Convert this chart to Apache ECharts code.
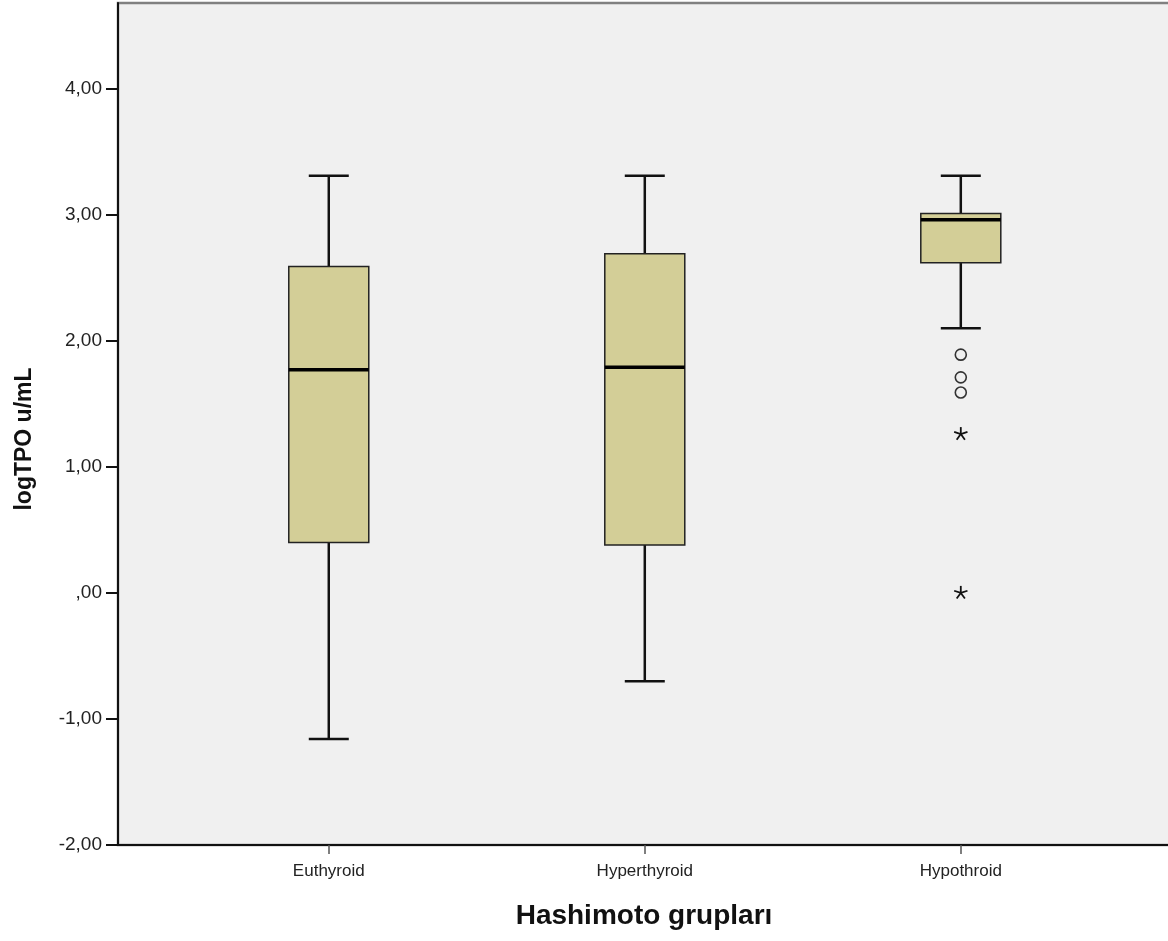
<!DOCTYPE html>
<html>
<head>
<meta charset="utf-8">
<script src="https://cdn.jsdelivr.net/npm/echarts@6/dist/echarts.min.js"></script>
<style>
  html, body { margin: 0; padding: 0; background: #fff; }
  #chart { width: 1168px; height: 941px; }
</style>
</head>
<body>
<div id="chart"></div>
<script>
// box statistics, per group
const categories = ['Euthyroid', 'Hyperthyroid', 'Hypothroid'];
const whiskerLow = [-1.16, -0.70, 2.10];
const q1 = [0.40, 0.38, 2.62];
const median = [1.77, 1.79, 2.96];
const q3 = [2.59, 2.69, 3.01];
const whiskerHigh = [3.31, 3.31, 3.31];

// outliers (circles) and extremes (stars): [group index, value]
const outliers = [[2, 1.89], [2, 1.71], [2, 1.59]];
const extremes = [[2, 1.26], [2, 0.00]];

const yTicks = [-2, -1, 0, 1, 2, 3, 4];

const boxData = categories.map((c, i) => [i, whiskerLow[i], q1[i], median[i], q3[i], whiskerHigh[i]]);

function fmt(v) {
  if (Math.abs(v) < 1e-9) return ',00';
  return (v < 0 ? '-' : '') + Math.abs(v).toFixed(2).replace('.', ',');
}

const chart = echarts.init(document.getElementById('chart'));

function renderBox(params, api) {
  const x = api.value(0);
  const low = api.coord([x, api.value(1)]);
  const b1 = api.coord([x, api.value(2)]);
  const med = api.coord([x, api.value(3)]);
  const b3 = api.coord([x, api.value(4)]);
  const high = api.coord([x, api.value(5)]);
  const cx = low[0];
  const bw = 80, cw = 40;
  const line = { stroke: '#111', lineWidth: 2.5 };
  return {
    type: 'group',
    children: [
      { type: 'line', shape: { x1: cx, y1: b3[1], x2: cx, y2: high[1] }, style: line },
      { type: 'line', shape: { x1: cx - cw / 2, y1: high[1], x2: cx + cw / 2, y2: high[1] }, style: line },
      { type: 'line', shape: { x1: cx, y1: b1[1], x2: cx, y2: low[1] }, style: line },
      { type: 'line', shape: { x1: cx - cw / 2, y1: low[1], x2: cx + cw / 2, y2: low[1] }, style: line },
      { type: 'rect', shape: { x: cx - bw / 2, y: b3[1], width: bw, height: b1[1] - b3[1] },
        style: { fill: '#D3CE97', stroke: '#222', lineWidth: 1.5 } },
      { type: 'line', shape: { x1: cx - bw / 2, y1: med[1], x2: cx + bw / 2, y2: med[1] },
        style: { stroke: '#000', lineWidth: 3.5 } }
    ]
  };
}

function renderCircle(params, api) {
  const p = api.coord([api.value(0), api.value(1)]);
  return { type: 'circle', shape: { cx: p[0], cy: p[1], r: 5.5 },
    style: { fill: 'none', stroke: '#333', lineWidth: 1.6 } };
}

function renderStar(params, api) {
  const p = api.coord([api.value(0), api.value(1)]);
  const children = [];
  for (let k = 0; k < 5; k++) {
    const a = (-90 + k * 72) * Math.PI / 180;
    children.push({ type: 'line',
      shape: { x1: p[0], y1: p[1], x2: p[0] + 7 * Math.cos(a), y2: p[1] + 7 * Math.sin(a) },
      style: { stroke: '#111', lineWidth: 1.8 } });
  }
  return { type: 'group', children: children };
}

chart.setOption({
  backgroundColor: '#fff',
  animation: false,
  grid: {
    left: 118, right: -8, top: 3, bottom: 96,
    outerBoundsMode: 'none',
    show: true, backgroundColor: '#F0F0F0', borderColor: '#808080', borderWidth: 2.5
  },
  xAxis: {
    type: 'value',
    min: -0.667, max: 2.681,
    name: 'Hashimoto grupları',
    nameLocation: 'middle', nameGap: 57,
    nameTextStyle: { fontFamily: 'Liberation Sans', fontWeight: 'bold', fontSize: 28, color: '#111',
      padding: [0, 6, 0, 0] },
    splitLine: { show: false },
    axisLine: { onZero: false, lineStyle: { color: '#111', width: 2 } },
    axisTick: { show: true, customValues: [0, 1, 2], length: 9, lineStyle: { color: '#555', width: 1.5 } },
    axisLabel: {
      customValues: [0, 1, 2], margin: 18,
      fontFamily: 'Liberation Sans', fontSize: 17, color: '#222',
      formatter: v => categories[Math.round(v)]
    }
  },
  yAxis: {
    type: 'value',
    min: -2, max: 4.68, interval: 1,
    name: 'logTPO u/mL',
    nameLocation: 'middle', nameGap: 82, nameRotate: 90,
    nameTextStyle: { fontFamily: 'Liberation Sans', fontWeight: 'bold', fontSize: 23, color: '#111',
      padding: [0, 30, 0, 0] },
    splitLine: { show: false },
    axisLine: { show: true, onZero: false, lineStyle: { color: '#111', width: 2 } },
    axisTick: { show: true, customValues: yTicks, length: 12, lineStyle: { color: '#111', width: 2 } },
    axisLabel: {
      customValues: yTicks,
      margin: 16, fontFamily: 'Liberation Sans', fontSize: 19, color: '#222',
      formatter: v => fmt(v)
    }
  },
  series: [
    { type: 'custom', renderItem: renderBox, data: boxData, encode: { x: 0, y: [1, 2, 3, 4, 5] } },
    { type: 'custom', renderItem: renderCircle, data: outliers, encode: { x: 0, y: 1 } },
    { type: 'custom', renderItem: renderStar, data: extremes, encode: { x: 0, y: 1 } }
  ]
});
</script>
</body>
</html>
